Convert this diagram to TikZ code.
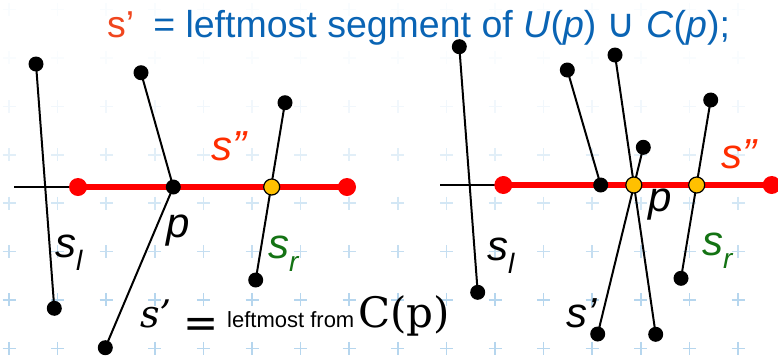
\documentclass[tikz,border=0pt]{standalone}
\usepackage{fontspec}
\newfontfamily\arialf{Liberation Sans}
\newfontfamily\symf{DejaVu Sans}
\newfontfamily\serifd{DejaVu Serif}
\usetikzlibrary{backgrounds}

\definecolor{titleblue}{RGB}{10,100,180}
\definecolor{primeorange}{RGB}{240,70,30}
\definecolor{sweepred}{RGB}{255,0,0}
\definecolor{labred}{RGB}{255,45,0}
\definecolor{labgreen}{RGB}{20,115,20}
\definecolor{hityellow}{RGB}{255,192,0}
\definecolor{gridblue}{RGB}{182,214,238}
\newcommand\lowsub[1]{\raisebox{-13pt}{\fontsize{28}{28}\selectfont #1}}

\begin{document}
\begin{tikzpicture}[x=1pt, y=-1pt,
  seg/.style={line width=2pt, draw=black},
  sweep/.style={line width=6pt, draw=sweepred},
  dot/.style={circle, fill=black, inner sep=0pt, minimum size=15pt},
  enddot/.style={dot, fill=sweepred, minimum size=18pt},
  hitdot/.style={dot, fill=hityellow, draw=black, line width=1.2pt, minimum size=16pt},
  lab/.style={font=\arialf\itshape\fontsize{42}{42}\selectfont, anchor=base west, inner sep=0pt}
]
\useasboundingbox (0,0) rectangle (778,357);

% ================= slide background =================
\begin{scope}[on background layer]
  \foreach \i in {0,...,16}{
    \foreach \j in {0,...,7}{
      \pgfmathsetmacro\gx{9+48.6*\i}
      \pgfmathsetmacro\gy{9.5+48.4*\j}
      \pgfmathsetmacro\op{max(0.08,min(1,(\gy-60)/240))}
      \draw[gridblue, line width=1.6pt, opacity=\op]
        (\gx-6.5,\gy) -- (\gx+6.5,\gy) (\gx,\gy-6.5) -- (\gx,\gy+6.5);
    }
  }
\end{scope}

% ================= Title =================
\node[lab, font=\arialf\fontsize{37.5}{37.5}\selectfont] (title) at (107,37.5)
  {\color{primeorange}s’\hspace{19pt}\color{titleblue}= leftmost segment of
   \textit{U}(\textit{p}) {\symf\fontsize{40}{40}\selectfont ∪} \textit{C}(\textit{p});};

% ================= Left: p is an end point =================
\node[dot] (Lla) at (36,64) {};
\node[dot] (Llb) at (54.3,308.3) {};
\coordinate (Lh) at (14,187);
\node[enddot] (Lra) at (78,187) {};
\node[enddot] (Lrb) at (347,187) {};
\node[dot] (Lp) at (173.3,187) {};
\node[dot] (Lua) at (141,72.7) {};
\node[dot] (Lca) at (105.3,347.7) {};
\node[dot] (Lsa) at (285,102.7) {};
\node[hitdot] (Lsx) at (271.7,187) {};
\node[dot] (Lsb) at (255.7,280) {};

\begin{scope}[on background layer]
  \draw[seg] (Lla.center) -- (Llb.center);
  \draw[seg, line width=2.5pt] (Lh) -- (Lra.center);
  \draw[seg] (Lua.center) -- (Lp.center);
  \draw[seg] (Lp.center) -- (Lca.center);
  \draw[seg] (Lsa.center) -- (Lsb.center);
  \draw[sweep] (Lra.center) -- (Lrb.center);
\end{scope}

\node[lab, text=labred] (Lsdd) at (211,160) {s”};
\node[lab] (Lplab) at (166,237) {p};
\node[lab] (Lsl) at (55,257) {s\lowsub{l}};
\node[lab, text=labgreen] (Lsr) at (268,258) {s\lowsub{r}};

% ================= Right: p is an interior point =================
\node[dot] (Rla) at (459.3,46.7) {};
\node[dot] (Rlb) at (477.7,292.3) {};
\coordinate (Rh) at (440,185);
\node[enddot] (Rra) at (503.3,185) {};
\node[enddot] (Rrb) at (771.7,185) {};
\node[dot] (Rua) at (567.3,70) {};
\node[dot] (Rub) at (600.7,185) {};
\node[dot] (Rca) at (615,55) {};
\node[dot] (Rcb) at (655.7,334.3) {};
\node[dot] (Rda) at (643.3,147.3) {};
\node[dot] (Rdb) at (597.7,334) {};
\node[hitdot] (Rp) at (633.8,185) {};
\node[dot] (Rsa) at (710.7,100) {};
\node[hitdot] (Rsx) at (696.7,185) {};
\node[dot] (Rsb) at (681,278.3) {};

\begin{scope}[on background layer]
  \draw[seg] (Rla.center) -- (Rlb.center);
  \draw[seg, line width=2.5pt] (Rh) -- (Rra.center);
  \draw[seg] (Rua.center) -- (Rub.center);
  \draw[seg] (Rca.center) -- (Rcb.center);
  \draw[seg] (Rda.center) -- (Rdb.center);
  \draw[seg] (Rsa.center) -- (Rsb.center);
  \draw[sweep] (Rra.center) -- (Rrb.center);
\end{scope}

\node[lab, text=labred] (Rsdd) at (721,168) {s”};
\node[lab] (Rplab) at (648,211) {p};
\node[lab] (Rsl) at (487,260) {s\lowsub{l}};
\node[lab, text=labgreen] (Rsr) at (702,255) {s\lowsub{r}};
\node[lab] (Rsp) at (566,327) {s’};

% ================= Bottom note =================
\node[lab, font=\serifd\itshape\fontsize{38}{38}\selectfont] (notes) at (140,327) {s’};
\node[lab, font=\symf\fontsize{42}{42}\selectfont] (noteeq) at (183,337) {=};
\node[lab, font=\arialf\fontsize{22}{22}\selectfont] (notetxt) at (227,327) {leftmost from};
\node[lab, font=\serifd\fontsize{42}{42}\selectfont] (notecp) at (358,327) {C(p)};

\end{tikzpicture}
\end{document}
